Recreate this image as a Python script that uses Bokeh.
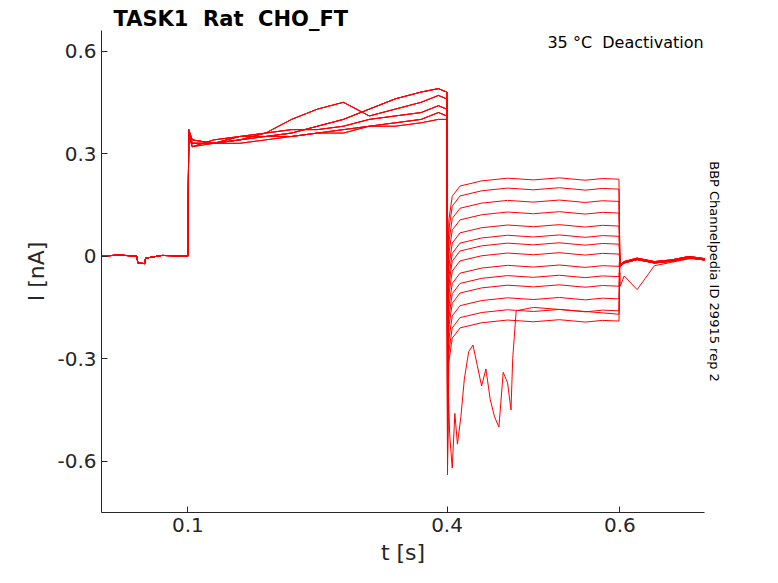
import numpy as np
from bokeh.plotting import figure
from bokeh.models import Label, FixedTicker, Range1d, Title
from bokeh.embed import file_html
from bokeh.resources import INLINE

x_ticks = [0.1, 0.4, 0.6]
y_ticks = [-0.6, -0.3, 0, 0.3, 0.6]

# baseline segment (shared)
t_base = [0.0, 0.02, 0.041, 0.042, 0.05, 0.051, 0.07, 0.0995]
v_base = [0.0, 0.003, 0.0, -0.02, -0.022, -0.006, 0.002, 0.0]

# pre-pulse segment (0.1 - 0.4)
t_pre = [0.1, 0.101, 0.105, 0.13, 0.16, 0.19, 0.22, 0.25, 0.28, 0.31, 0.34, 0.37, 0.39, 0.3995]
pre_shapes = [
    [0.0, 0.37, 0.33, 0.33, 0.34, 0.35, 0.35, 0.36, 0.37, 0.38, 0.39, 0.40, 0.42, 0.41],
    [0.0, 0.36, 0.32, 0.34, 0.35, 0.36, 0.37, 0.37, 0.38, 0.40, 0.41, 0.42, 0.44, 0.43],
    [0.0, 0.35, 0.33, 0.33, 0.34, 0.36, 0.40, 0.43, 0.45, 0.41, 0.43, 0.45, 0.47, 0.46],
    [0.0, 0.37, 0.34, 0.33, 0.35, 0.35, 0.36, 0.38, 0.40, 0.43, 0.46, 0.48, 0.49, 0.48],
    [0.0, 0.36, 0.32, 0.33, 0.33, 0.34, 0.35, 0.36, 0.36, 0.38, 0.38, 0.39, 0.40, 0.40],
]
shape_of_trace = [0, 1, 2, 3, 4, 1, 0, 3, 2, 4, 0, 1, 3, 2]

# test-pulse segment (0.4 - 0.6): steady levels per trace
levels = [0.225, 0.196, 0.16, 0.126, 0.088, 0.058, 0.035, 0.006,
          -0.03, -0.06, -0.088, -0.125, -0.16, -0.19]
t_post = [0.4, 0.4005, 0.402, 0.406, 0.415, 0.44, 0.47, 0.5, 0.53, 0.56, 0.58, 0.599]
post_offsets = [None, -0.45, -0.12, -0.05, -0.02, -0.005, 0.003, -0.002, 0.004, -0.003, 0.002, 0.0]

# tail segment (0.6 - 0.7)
t_tail = [0.6, 0.6005, 0.605, 0.62, 0.64, 0.66, 0.68, 0.7]
v_tail = [-0.01, -0.03, -0.02, -0.01, -0.02, -0.015, -0.005, -0.012]

# the large-transient trace
t_big = [0.4, 0.401, 0.403, 0.406, 0.409, 0.412, 0.416, 0.42, 0.425, 0.43, 0.435, 0.44,
         0.445, 0.45, 0.455, 0.46, 0.465, 0.47, 0.474, 0.476, 0.48, 0.5, 0.55, 0.599]
v_big = [0.44, -0.35, -0.52, -0.62, -0.46, -0.55, -0.47, -0.36, -0.28, -0.26, -0.32, -0.38,
         -0.33, -0.42, -0.47, -0.50, -0.34, -0.37, -0.45, -0.30, -0.16, -0.15, -0.16, -0.17]

xs, ys = [], []
for i, lv in enumerate(levels):
    shp = pre_shapes[shape_of_trace[i]]
    pv = [lv + (o if o is not None else 0) for o in post_offsets]
    pv[0] = shp[-1]
    tv = list(v_tail)
    if i == len(levels) - 1:
        tv = [-0.05, -0.09, -0.06, -0.1, -0.03, -0.02, -0.01, -0.01]
    xs.append(t_base + t_pre + t_post + t_tail)
    ys.append(v_base + shp + pv + [v + 0.002 * (i % 3) for v in tv])
xs.append(t_base + t_pre + t_big + t_tail)
ys.append(v_base + pre_shapes[3] + v_big + v_tail)

p = figure(width=770, height=575, output_backend="svg", toolbar_location=None,
           x_range=Range1d(0.0, 0.698), y_range=Range1d(-0.75, 0.66),
           min_border_left=101, min_border_right=66, min_border_top=30, min_border_bottom=63)
p.multi_line(xs, ys, line_color="red", line_width=1)

p.title.text = "TASK1\u00a0\u00a0Rat\u00a0\u00a0CHO_FT"
p.title.text_font_size = "21px"
p.title.text_font = "DejaVu Sans"
p.title.text_color = "black"
p.title.offset = 12
p.title.standoff = 0

p.add_layout(Title(text="BBP Channelpedia ID 29915 rep 2", align="center",
                   text_font_size="13px", text_font="DejaVu Sans", text_font_style="normal",
                   text_color="black", standoff=4), "right")

p.xaxis.ticker = FixedTicker(ticks=x_ticks)
p.yaxis.ticker = FixedTicker(ticks=y_ticks)
p.yaxis.major_label_overrides = {-0.6: "-0.6", -0.3: "-0.3", 0: "0", 0.3: "0.3", 0.6: "0.6"}
p.xaxis.axis_label = "t [s]"
p.yaxis.axis_label = "I [nA]"
for ax in (p.xaxis, p.yaxis):
    ax.major_label_text_font_size = "20px"
    ax.major_label_text_color = "#262626"
    ax.axis_label_text_font_size = "22px"
    ax.axis_label_text_font_style = "normal"
    ax.axis_label_text_color = "#262626"
    ax.major_tick_in = 6
    ax.major_tick_out = 0
    ax.minor_tick_in = 0
    ax.minor_tick_out = 0
    ax.axis_line_color = "#262626"
    ax.major_tick_line_color = "#262626"
    ax.major_label_text_font = "DejaVu Sans"
    ax.axis_label_text_font = "DejaVu Sans"
p.grid.visible = False
p.outline_line_color = None

p.add_layout(Label(x=0.697, y=0.625, text="35\u00a0°C\u00a0\u00a0Deactivation", text_align="right",
                   text_baseline="middle", text_font_size="16px", text_font="DejaVu Sans",
                   text_color="black"))

open("out.html", "w").write(file_html(p, INLINE))
